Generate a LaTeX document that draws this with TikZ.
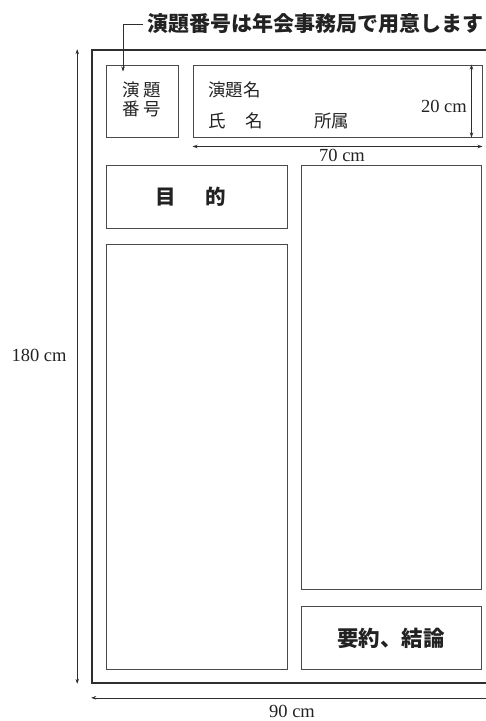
\documentclass[tikz,border=0pt]{standalone}
\usepackage{fontspec}
\newfontfamily\jp{Noto Sans CJK JP}
\newfontfamily\numfont{Liberation Serif}
\usetikzlibrary{arrows.meta}
\definecolor{boxline}{HTML}{4A4A4A}
\definecolor{frameline}{HTML}{2E2E2E}
\definecolor{ink}{HTML}{222222}
\tikzset{
  x=1pt, y=-1pt,
  panel/.style={draw=boxline, line width=1pt, minimum width=#1, inner sep=0pt, text=ink},
  dim/.style={draw=frameline, line width=0.6pt, {Stealth[length=5pt,width=3.5pt]}-{Stealth[length=5pt,width=3.5pt]}},
  lead/.style={draw=frameline, line width=0.6pt, -{Stealth[length=5pt,width=3.5pt]}},
  dimtext/.style={text=ink, font=\numfont\fontsize{18.5}{21}\selectfont, inner sep=0pt},
  jplight/.style={text=ink, font=\jp\fontsize{17.5}{20}\selectfont, inner sep=0pt},
  jpbold/.style={text=ink, font=\jp\bfseries\fontsize{20.5}{24}\selectfont, inner sep=0pt}
}
\begin{document}
\begin{tikzpicture}
\useasboundingbox (0,0) rectangle (486,721);
\clip (0,0) rectangle (486,721);
% frame
\node[draw=frameline, line width=1.6pt, minimum width=405pt, minimum height=633pt, inner sep=0pt] (frame) at (294.5,366.5) {};
% boxes
\node[panel=72pt, minimum height=72pt] (numbox) at (142,101) {};
\node[panel=289pt, minimum height=72pt] (title) at (337.5,101) {};
\node[panel=181pt, minimum height=63pt] (purpose) at (196.5,196.5) {};
\node[panel=181pt, minimum height=425pt] (leftbig) at (196.5,456.5) {};
\node[panel=180pt, minimum height=424pt] (rightbig) at (391,377) {};
\node[panel=180pt, minimum height=63pt] (summary) at (391,637.5) {};
% texts in boxes
\node[jplight] (nt1) at (142,89.5) {演\hspace{4pt}題};
\node[jplight] (nt2) at (142,108.5) {番\hspace{4pt}号};
\node[jplight, anchor=west] (tname) at (208,89.5) {演題名};
\node[jplight, anchor=west] (aname) at (208,121) {氏\hspace{20pt}名};
\node[jplight, anchor=west] (affil) at (314,121) {所属};
\node[jpbold] (ptext) at (191,197) {目\hspace{30pt}的};
\node[jpbold, font=\jp\bfseries\fontsize{21.5}{24}\selectfont] (stext) at (391,638) {要約、結論};
% note
\node[jpbold, anchor=west, font=\jp\bfseries\fontsize{21}{24}\selectfont] (note) at (147,24) {演題番号は年会事務局で用意します};
\draw[lead] ([xshift=-4pt]note.west) -| ([xshift=-19pt,yshift=-7pt]numbox.north);
% dimensions
\draw[dim] ([xshift=-14pt]frame.north west) -- ([xshift=-14pt]frame.south west);
\node[dimtext] (h180) at (39,355) {180 cm};
\draw[dim] ([yshift=-14pt]frame.south west) -- ([yshift=-14pt]frame.south east);
\node[dimtext] (w90) at (292,711) {90 cm};
\draw[dim] ([yshift=-9pt]title.south west) -- ([yshift=-9pt]title.south east);
\node[dimtext] (w70) at (342,155) {70 cm};
\draw[dim] ([xshift=-11pt]title.north east) -- ([xshift=-11pt]title.south east);
\node[dimtext, anchor=east] (h20) at (467,106) {20 cm};
\end{tikzpicture}
\end{document}
